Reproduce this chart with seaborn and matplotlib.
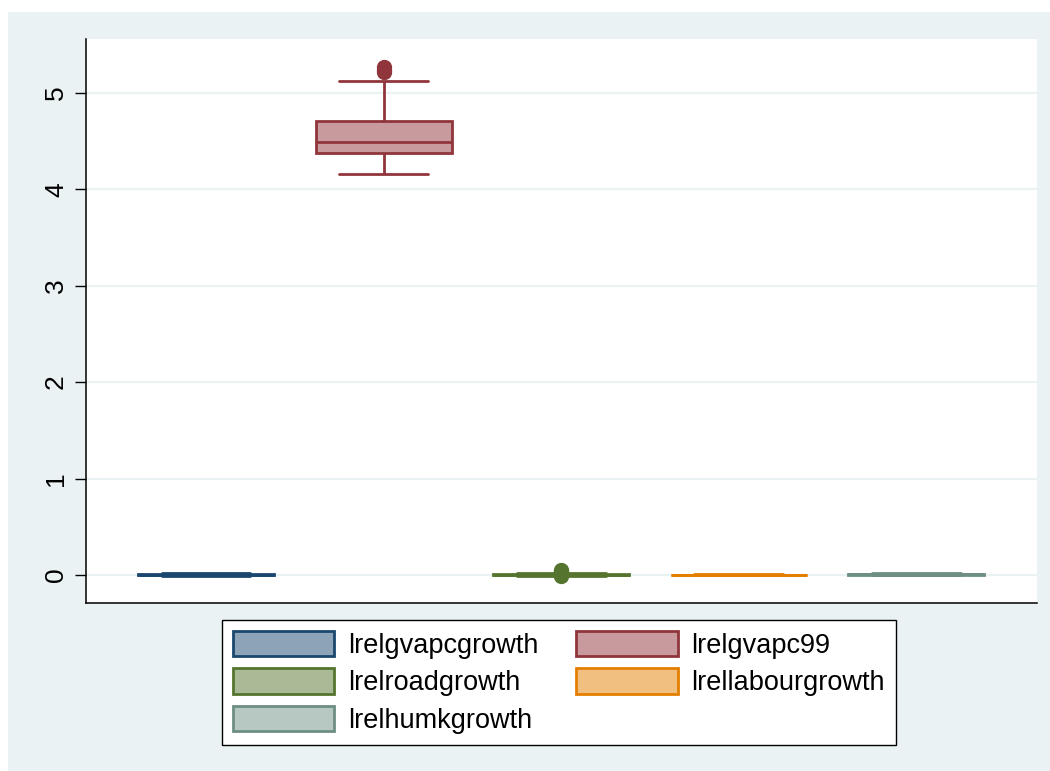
import numpy as np
import pandas as pd
import matplotlib
matplotlib.use("Agg")
import matplotlib.pyplot as plt
from matplotlib.patches import Patch, Rectangle
import seaborn as sns

# Variables shown as separate boxes, left to right
variables = ["lrelgvapcgrowth", "lrelgvapc99", "lrelroadgrowth",
             "lrellabourgrowth", "lrelhumkgrowth"]

lrelgvapcgrowth = [-0.006, -0.004, -0.002, 0.000, 0.001, 0.002, 0.003, 0.003,
                   0.004, 0.004, 0.005, 0.005, 0.006, 0.006, 0.007, 0.008,
                   0.009, 0.010, 0.012, 0.014, 0.016]
lrelgvapc99 = [4.16, 4.22, 4.27, 4.31, 4.35, 4.38, 4.40, 4.42, 4.44, 4.46,
               4.49, 4.52, 4.56, 4.60, 4.65, 4.71, 4.85, 5.12, 5.22, 5.24,
               5.265]
lrelroadgrowth = [-0.015, -0.008, -0.005, -0.003, -0.001, 0.000, 0.001, 0.002,
                  0.003, 0.003, 0.004, 0.005, 0.005, 0.006, 0.007, 0.008,
                  0.011, 0.016, 0.030, 0.045, 0.052]
lrellabourgrowth = [-0.004, -0.003, -0.002, -0.001, 0.000, 0.001, 0.001, 0.002,
                    0.002, 0.003, 0.003, 0.003, 0.004, 0.004, 0.005, 0.005,
                    0.006, 0.006, 0.007, 0.008, 0.009]
lrelhumkgrowth = [-0.004, -0.002, 0.000, 0.002, 0.003, 0.004, 0.005, 0.006,
                  0.006, 0.007, 0.008, 0.008, 0.009, 0.010, 0.011, 0.012,
                  0.013, 0.014, 0.016, 0.018, 0.020]

series = [lrelgvapcgrowth, lrelgvapc99, lrelroadgrowth,
          lrellabourgrowth, lrelhumkgrowth]
yticks = [0, 1, 2, 3, 4, 5]

# Stata s2color line colours and their 50% tints for the box fills
edge_colors = ["#1A476F", "#90353B", "#55752F", "#E37E00", "#6E8E84"]


def tint(hex_color, amount=0.5):
    rgb = np.array(matplotlib.colors.to_rgb(hex_color))
    return tuple(rgb + (1 - rgb) * amount)


fill_colors = [tint(c) for c in edge_colors]
bg_color = "#EAF2F3"

df = pd.DataFrame({
    "variable": np.repeat(variables, [len(s) for s in series]),
    "value": np.concatenate(series),
})

sns.set_style("white")
plt.rcParams["font.family"] = ["Liberation Sans", "DejaVu Sans"]
plt.rcParams["text.color"] = "black"

W, H = 1050, 771
fig = plt.figure(figsize=(W / 100, H / 100), dpi=100, facecolor="white")
fig.add_artist(Rectangle((8 / W, 0), 1, 1 - 12 / H, transform=fig.transFigure,
                         facecolor=bg_color, edgecolor="none", zorder=-10))

ax = fig.add_axes([86 / W, 1 - 603 / H, (1037 - 86) / W, (603 - 39) / H])
ax.set_facecolor("white")

for name, edge, fill in zip(variables, edge_colors, fill_colors):
    sns.boxplot(
        data=df[df["variable"] == name], x="variable", y="value",
        order=variables, color=fill, linecolor=edge, saturation=1,
        width=0.766, linewidth=2.0, whis=1.5, fliersize=10,
        capwidths=0.5,
        flierprops=dict(marker="o", markerfacecolor=edge,
                        markeredgecolor=edge, markersize=10),
        ax=ax,
    )

ax.set_xlim(-0.676, 4.68)
ax.set_ylim(-0.29, 5.557)
ax.set_xticks([])
ax.set_yticks(yticks)
ax.set_yticklabels([str(t) for t in yticks])
ax.set_xlabel("")
ax.set_ylabel("")
ax.yaxis.grid(True, color=bg_color, linewidth=1.6)
ax.xaxis.grid(False)
ax.set_axisbelow(True)

for side in ["top", "right"]:
    ax.spines[side].set_visible(False)
for side in ["left", "bottom"]:
    ax.spines[side].set_color("black")
    ax.spines[side].set_linewidth(1.1)

ax.tick_params(axis="y", left=True, length=8, width=1.0, color="black",
               pad=5, labelsize=19, labelcolor="black")
for lbl in ax.get_yticklabels():
    lbl.set_rotation(90)
    lbl.set_va("center")

handles = [Patch(facecolor=f, edgecolor=e, linewidth=2.0, label=n)
           for n, e, f in zip(variables, edge_colors, fill_colors)]
order = [0, 2, 4, 1, 3]
leg = fig.legend(
    handles=[handles[i] for i in order], ncol=2, loc="upper left",
    bbox_to_anchor=(222 / W, 1 - 620 / H), borderaxespad=0,
    frameon=True, fancybox=False, framealpha=1, edgecolor="black",
    facecolor="white", fontsize=19.5, handlelength=3.75, handleheight=1.05,
    handletextpad=0.5, columnspacing=1.4, borderpad=0.4, labelspacing=0.36,
)
leg.get_frame().set_linewidth(1.0)
for txt in leg.get_texts():
    txt.set_color("black")

fig.savefig("out.png", dpi=100, facecolor=fig.get_facecolor())
